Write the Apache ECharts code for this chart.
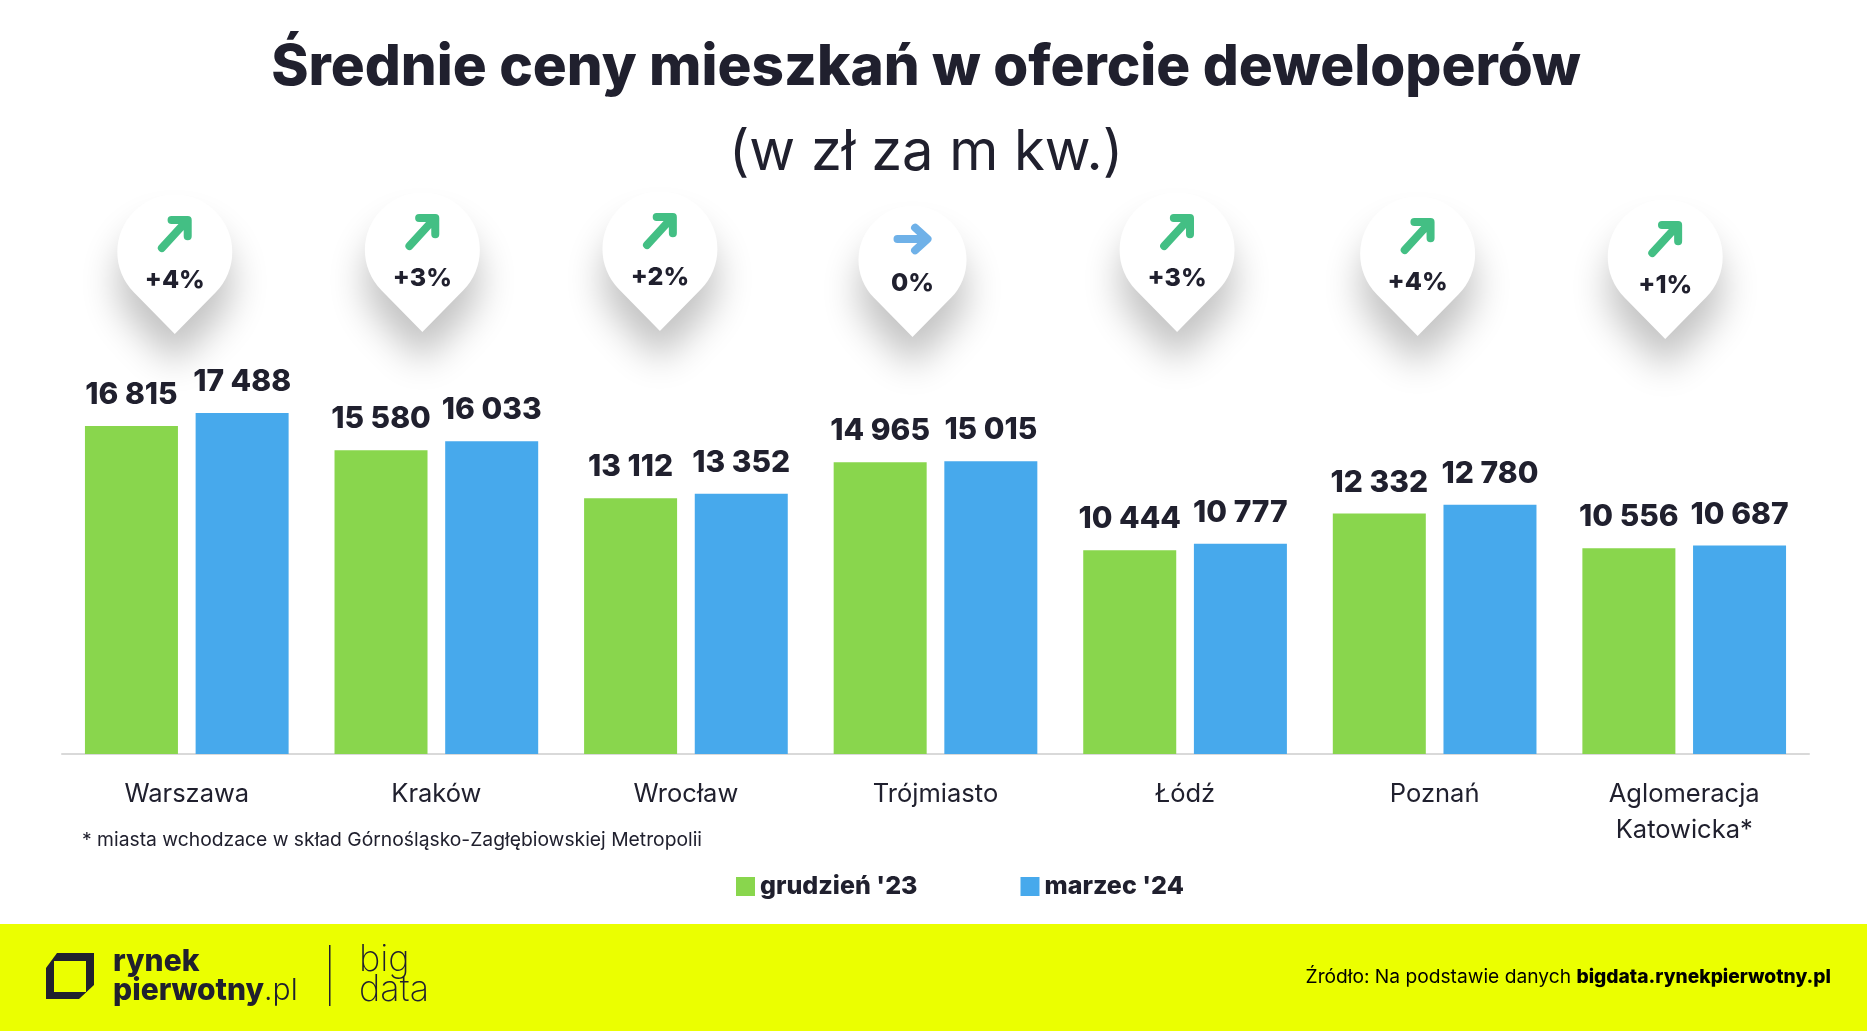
<!DOCTYPE html>
<html>
<head>
<meta charset="utf-8">
<title>Średnie ceny mieszkań</title>
<script src="https://cdn.jsdelivr.net/npm/echarts@6/dist/echarts.min.js"></script>
<style>
html,body{margin:0;padding:0;background:#fff}
#main{width:1867px;height:1032px}
</style>
</head>
<body>
<div id="main"></div>
<script>
var categories = ['Warszawa', 'Kraków', 'Wrocław', 'Trójmiasto', 'Łódź', 'Poznań', 'Aglomeracja\nKatowicka*'];
var seriesNames = ["grudzień '23", "marzec '24"];
var grudzien = [16815, 15580, 13112, 14965, 10444, 12332, 10556];
var marzec = [17488, 16033, 13352, 15015, 10777, 12780, 10687];
var changes = [4, 3, 2, 0, 3, 4, 1];

// where the callouts sit, relative to the category centre and the axis line
var pinShift = [-12, -14, -26, -23, -8, -17, -19];
var pinRise = [420, 422, 423, 417, 422, 418, 415];

var dark = '#20202e';
var band = '#ebff00';
var font = 'Inter';

function fmtNumber(v) {
    return String(v).replace(/\B(?=(\d{3})+$)/g, ' ');
}

function fmtChange(v) {
    return (v > 0 ? '+' : '') + v + '%';
}

function renderPin(params, api) {
    var i = params.dataIndex;
    var base = api.coord([api.value(0), 0]);
    var change = api.value(1);
    var arrow, size;
    if (change > 0) {
        arrow = 'M-12 14 L10 -10 M-3 -12 L12 -12 L12 3';
        size = 1;
    } else {
        arrow = 'M-15 0 L13 0 M2 -11 L14 0 L2 11';
        size = 0.94; // the flat one is drawn a bit smaller in the original
    }
    return {
        type: 'group',
        x: base[0] + pinShift[i],
        y: base[1] - pinRise[i],
        children: [{
            type: 'path',
            scaleX: size,
            scaleY: size,
            shape: {pathData: 'M0 0 L-41 -41.7 A57.5 57.5 0 1 1 41 -41.7 Z', x: -57.5, y: -139.5, width: 115, height: 139.5},
            style: {fill: '#fff', shadowBlur: 36, shadowColor: 'rgba(0,0,0,0.24)', shadowOffsetY: 30}
        }, {
            type: 'path',
            x: 0,
            y: change > 0 ? -100 : -98,
            shape: {pathData: arrow, x: -15, y: -14, width: 30, height: 28},
            style: {fill: null, stroke: change > 0 ? '#43bf84' : '#6fb1e8', lineWidth: 8, lineCap: 'round', lineJoin: 'round'}
        }, {
            type: 'text',
            x: 0,
            y: -54,
            style: {text: fmtChange(change), fill: dark, font: '800 25px ' + font, align: 'center', verticalAlign: 'middle'}
        }]
    };
}

var myChart = echarts.init(document.getElementById('main'));

var barLabel = {
    show: true,
    position: 'top',
    distance: 16,
    formatter: function (p) { return fmtNumber(p.value); },
    color: dark,
    fontFamily: font,
    fontWeight: 800,
    fontSize: 30
};

var option = {
    animation: false,
    backgroundColor: '#fff',
    title: [{
        text: 'Średnie ceny mieszkań w ofercie deweloperów',
        left: 926,
        top: 39,
        padding: 0,
        textAlign: 'center',
        textStyle: {color: dark, fontFamily: font, fontWeight: 800, fontSize: 56.6}
    }, {
        text: '(w zł za m kw.)',
        left: 926,
        top: 125,
        padding: 0,
        textAlign: 'center',
        textStyle: {color: dark, fontFamily: font, fontWeight: 400, fontSize: 56}
    }, {
        text: '* miasta wchodzace w skład Górnośląsko-Zagłębiowskiej Metropolii',
        left: 82,
        top: 831,
        padding: 0,
        textStyle: {color: dark, fontFamily: font, fontWeight: 400, fontSize: 19.3}
    }],
    legend: {
        data: seriesNames,
        left: 736,
        top: 874,
        padding: 0,
        itemWidth: 19,
        itemHeight: 19,
        itemGap: 103,
        icon: 'rect',
        textStyle: {color: dark, fontFamily: font, fontWeight: 800, fontSize: 25}
    },
    grid: {left: 62, right: 58, top: 364, bottom: 278, containLabel: false},
    xAxis: {
        type: 'category',
        data: categories,
        axisLine: {lineStyle: {color: '#d9d9d9', width: 2}},
        axisTick: {show: false},
        axisLabel: {color: dark, fontFamily: font, fontSize: 25.5, margin: 22, lineHeight: 36, interval: 0}
    },
    yAxis: {
        type: 'value',
        min: 0,
        max: 20000,
        show: false
    },
    series: [{
        name: seriesNames[0],
        type: 'bar',
        data: grudzien,
        barWidth: 93,
        barGap: '19%',
        itemStyle: {color: '#89d64d'},
        label: barLabel
    }, {
        name: seriesNames[1],
        type: 'bar',
        data: marzec,
        barWidth: 93,
        itemStyle: {color: '#47a9ec'},
        label: barLabel
    }, {
        type: 'custom',
        silent: true,
        z: 1,
        clip: false,
        renderItem: renderPin,
        encode: {x: 0, y: 1},
        data: changes.map(function (v, i) { return [i, v]; })
    }],
    graphic: [{
        type: 'rect',
        z: 0,
        shape: {x: 0, y: 924, width: 1867, height: 107},
        style: {fill: band}
    }, {
        // logo mark
        type: 'polygon',
        z: 1,
        shape: {points: [[57, 953], [94, 953], [94, 985], [79, 999], [46, 999], [46, 968]]},
        style: {fill: dark}
    }, {
        type: 'rect',
        z: 2,
        shape: {x: 54, y: 961, width: 32, height: 31},
        style: {fill: band}
    }, {
        type: 'text', z: 1, x: 113, y: 962,
        style: {text: 'rynek', fill: dark, font: '800 30px ' + font, verticalAlign: 'middle'}
    }, {
        type: 'text', z: 1, x: 113, y: 991,
        style: {
            text: '{a|pierwotny}{b|.pl}',
            verticalAlign: 'middle',
            rich: {
                a: {fill: dark, font: '800 30px ' + font},
                b: {fill: dark, font: '300 30px ' + font}
            }
        }
    }, {
        type: 'rect', z: 1,
        shape: {x: 329, y: 945, width: 1.5, height: 61},
        style: {fill: dark}
    }, {
        type: 'text', z: 1, x: 359, y: 960,
        style: {text: 'big', fill: dark, font: '200 36px ' + font, verticalAlign: 'middle'}
    }, {
        type: 'text', z: 1, x: 359, y: 990,
        style: {text: 'data', fill: dark, font: '200 36px ' + font, verticalAlign: 'middle'}
    }, {
        type: 'text', z: 1, x: 1831, y: 977,
        style: {
            text: '{a|Źródło: Na podstawie danych }{b|bigdata.rynekpierwotny.pl}',
            align: 'right',
            verticalAlign: 'middle',
            rich: {
                a: {fill: '#000', font: '400 19.2px ' + font},
                b: {fill: '#000', font: '800 19.2px ' + font}
            }
        }
    }]
};

myChart.setOption(option);
</script>
</body>
</html>
